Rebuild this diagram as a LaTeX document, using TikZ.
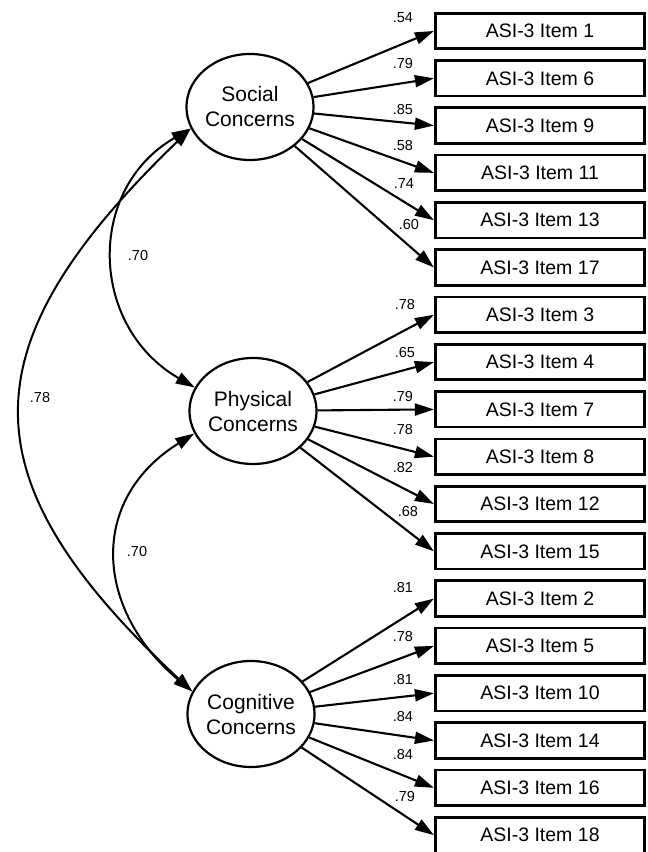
\documentclass[tikz,border=0pt]{standalone}
\usepackage{fontspec}
\setmainfont{Liberation Sans}
\usetikzlibrary{shapes.geometric,arrows.meta,calc}

\begin{document}
\begin{tikzpicture}[x=1pt,y=1pt,
    factor/.style={draw,
        ellipse,
        line width=2.2pt,
        minimum width=123pt,
        minimum height=106pt,
        inner sep=0pt,
        align=center,
        font=\fontsize{21}{25}\selectfont},
    item/.style={draw,
        rectangle,
        line width=2.7pt,
        minimum width=209.5pt,
        minimum height=35.5pt,
        inner sep=0pt,
        font=\fontsize{19.5}{22}\selectfont},
    load/.style={line width=2.1pt, -{Triangle[length=19pt,width=12pt]}},
    cov/.style={line width=2pt, {Triangle[length=19pt,width=12pt]}-{Triangle[length=19pt,width=12pt]}},
    coef/.style={inner sep=0pt, font=\fontsize{14.5}{17}\selectfont}]

\useasboundingbox (0,0) rectangle (648,852);

% Factors
\node [factor] (soc) at (250,745) {Social\\Concerns};
\node [factor] (phy) at (253,441) {Physical\\Concerns};
\node [factor] (cog) at (251,138) {Cognitive\\Concerns};

% Items
\foreach \n/\k in {1/0,6/1,9/2,11/3,13/4,17/5,3/6,4/7,7/8,8/9,12/10,15/11,2/12,5/13,10/14,14/15,16/16,18/17}
    \node [item] (i\n) at (540,{821-47.3*\k}) {ASI-3 Item \n};

% Loadings
\foreach \f/\n/\v/\dx/\dy in {soc/1/.54/-31/13, soc/6/.79/-31/15, soc/9/.85/-31/16,
    soc/11/.58/-31/27, soc/13/.74/-30/37, soc/17/.60/-25/43,
    phy/3/.78/-29/10, phy/4/.65/-29/10, phy/7/.79/-31/13,
    phy/8/.78/-31/27, phy/12/.82/-31/36, phy/15/.68/-26/40,
    cog/2/.81/-31/11, cog/5/.78/-31/9, cog/10/.81/-31/14,
    cog/14/.84/-31/24, cog/16/.84/-31/33, cog/18/.79/-29/39}
{
    \draw [load] (\f) -- (i\n.west);
    \node [coef] (c\n) at ($(i\n.west)+(\dx,\dy)$) {\v};
}

% Correlations
\draw [cov] (soc.200) to[out=210,in=150,looseness=1.2] (phy.158);
\draw [cov] (phy.201) to[out=212,in=140,looseness=1.25] (cog.159);
\draw [cov] (soc.200) to[out=224,in=137,looseness=1.42] (cog.159);

\node [coef] (r1) at (138,596) {.70};
\node [coef] (r2) at (137,300) {.70};
\node [coef] (r3) at (40,454) {.78};

\end{tikzpicture}
\end{document}
